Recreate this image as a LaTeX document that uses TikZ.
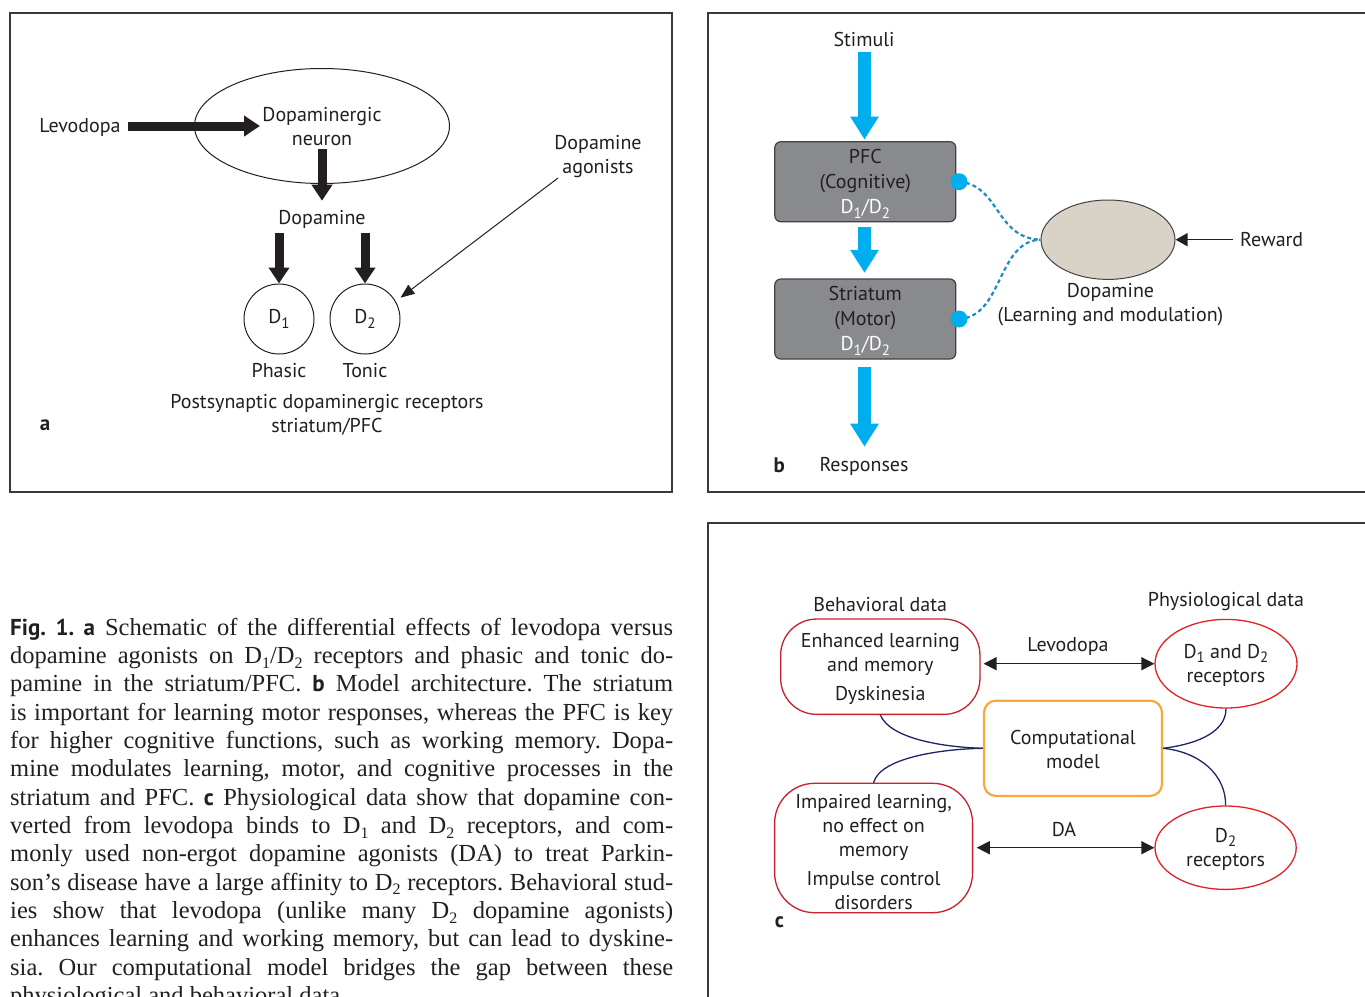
\documentclass[tikz,border=0pt]{standalone}
\usepackage{fontspec}
\setmainfont{Liberation Serif}
\newfontfamily\dfont{PT Sans}
\usetikzlibrary{arrows.meta,shapes.geometric,calc}
\definecolor{txt}{HTML}{231F20}
\definecolor{cyanarrow}{HTML}{00AEEF}
\definecolor{dashblue}{HTML}{1E8BC3}
\definecolor{boxgray}{HTML}{898A8D}
\definecolor{beige}{HTML}{D9D3C7}
\definecolor{crimson}{HTML}{C8202F}
\definecolor{brightred}{HTML}{E42127}
\definecolor{orangeb}{HTML}{F9A83A}
\definecolor{navy}{HTML}{1F2466}
\definecolor{framec}{HTML}{3A3A3A}
\newcommand\dsub[1]{\raisebox{-0.22em}{\fontsize{15}{15}\selectfont #1}}
\newcommand\csub[1]{\raisebox{-0.2em}{\fontsize{16}{16}\selectfont #1}}
\newcommand\capline[2]{\node[capl] at (10,#1) {\frenchspacing\makebox[663pt][s]{#2}};}
\begin{document}
\begin{tikzpicture}[x=1pt,y=-1pt,
  lbl/.style={font=\dfont\fontsize{20}{24}\selectfont, text=txt, inner sep=0pt, align=center},
  boxlbl/.style={font=\dfont\fontsize{20}{25}\selectfont, text=txt, inner sep=0pt, align=center},
  panellbl/.style={font=\dfont\bfseries\fontsize{21}{24}\selectfont, text=txt, inner sep=0pt},
  frame/.style={draw=framec, line width=1.2pt},
  fatarrow/.style={draw=txt, line width=9pt, -{Triangle[length=16pt,width=20pt]}},
  bluearrow/.style={draw=cyanarrow, line width=13.5pt, -{Triangle[length=23pt,width=27pt]}},
  thinarrow/.style={draw=txt, line width=1pt, -{Triangle[length=14pt,width=11pt]}},
  dblarrow/.style={draw=txt, line width=1.5pt, {Triangle[length=13pt,width=13pt]}-{Triangle[length=13pt,width=13pt]}},
  graybox/.style={draw=txt!85, line width=1.2pt, fill=boxgray, rounded corners=6pt, minimum width=181pt, minimum height=80pt, inner sep=0pt},
  dashcurve/.style={draw=dashblue, line width=2.2pt, dash pattern=on 4pt off 3pt},
  redbox/.style={draw=crimson, line width=1.3pt, inner sep=0pt},
  redell/.style={ellipse, draw=brightred, line width=1.3pt, inner sep=0pt},
  navycurve/.style={draw=navy, line width=1.3pt},
  capl/.style={anchor=base west, inner sep=0pt, text=txt, font=\fontsize{24.5}{28}\selectfont}
]
\useasboundingbox (0,0) rectangle (1365,996);
\clip (0,0) rectangle (1365,996);
\fill[white] (0,0) rectangle (1365,996);

% ---------------- panel a ----------------
\draw[frame] (10,13) rectangle (672,492);
\node[ellipse, draw=txt, line width=1pt, minimum width=255pt, minimum height=115pt, inner sep=0pt] (neuron) at (322,126) {};
\node[lbl] (dnt) at (322,127) {Dopaminergic\\neuron};
\node[lbl] (lev) at (80,127) {Levodopa};
\coordinate (levend) at (260,126);
\draw[fatarrow] ([xshift=7pt]lev.east |- levend) -- (levend);
\coordinate (nstart) at (322,149);
\node[lbl] (dopa) at (322,219) {Dopamine};
\draw[fatarrow] (nstart) -- ([yshift=9pt]dopa.north);
\node[circle, draw=txt, line width=1pt, minimum size=70pt, inner sep=0pt, font=\dfont\fontsize{20}{24}\selectfont, text=txt] (d1) at (279,319) {D\dsub{1}};
\node[circle, draw=txt, line width=1pt, minimum size=70pt, inner sep=0pt, font=\dfont\fontsize{20}{24}\selectfont, text=txt] (d2) at (365,319) {D\dsub{2}};
\draw[fatarrow] ([yshift=-5pt]dopa.south -| d1) -- (d1.north);
\draw[fatarrow] ([yshift=-5pt]dopa.south -| d2) -- (d2.north);
\node[lbl] (phasic) at (279,371) {Phasic};
\node[lbl] (tonic) at (365,371) {Tonic};
\node[lbl] (post) at (327,415) {Postsynaptic dopaminergic receptors\\striatum/PFC};
\node[panellbl] (pa) at (45,425) {a};
\node[lbl] (agon) at (598,157) {Dopamine\\agonists};
\coordinate (agstart) at (558,178);
\coordinate (agtip) at (400.5,297.7);
\draw[thinarrow] (agstart) -- (agtip);

% ---------------- panel b ----------------
\draw[frame] (1370,13) -- (708,13) -- (708,492) -- (1370,492);
\node[lbl] (stim) at (864,39) {Stimuli};
\node[graybox] (pfc) at (865.3,181.7) {};
\node[boxlbl] (pfct) at (865.3,183.7) {PFC\\(Cognitive)\\\textcolor{white}{D\dsub{1}/D\dsub{2}}};
\node[graybox] (str) at (865.3,319) {};
\node[boxlbl] (strt) at (865.3,321) {Striatum\\(Motor)\\\textcolor{white}{D\dsub{1}/D\dsub{2}}};
\coordinate (stimstart) at (864.5,51.7);
\draw[bluearrow] (stimstart) -- ([yshift=1.5pt]pfc.north -| stimstart);
\draw[bluearrow] ([yshift=-4.5pt]pfc.south -| stimstart) -- ([yshift=5.5pt]str.north -| stimstart);
\node[lbl] (resp) at (864,466) {Responses};
\draw[bluearrow] ([yshift=-7pt]str.south -| stimstart) -- ([yshift=10pt]resp.north -| stimstart);
\node[panellbl] (pb) at (779.3,465) {b};
\node[ellipse, draw=txt!85, line width=1pt, fill=beige, minimum width=134pt, minimum height=79.4pt, inner sep=0pt] (da) at (1108,239.7) {};
\node[lbl] (rew) at (1271.7,239.5) {Reward};
\draw[draw=txt, line width=1.3pt, -{Triangle[length=12pt,width=13pt]}] ([xshift=-7pt]rew.west |- da.east) -- (da.east);
\node[lbl] (dal) at (1110.5,305) {Dopamine\\(Learning and modulation)};
\coordinate (dot1) at (959,181.7);
\coordinate (dot2) at (959,319);
\draw[dashcurve] (dot1) .. controls (1000,185) and (995,238) .. (da.west);
\draw[dashcurve] (dot2) .. controls (1003,317) and (997,241) .. (da.west);
\fill[cyanarrow] (dot1) circle (8.5);
\fill[cyanarrow] (dot2) circle (8.5);

% ---------------- panel c ----------------
\draw[frame] (1370,523) -- (708,523) -- (708,1000);
\node[lbl] (behav) at (880.2,604.3) {Behavioral data};
\node[lbl] (phys) at (1225.9,601.7) {Physiological data};
\node[redbox, rounded corners=36pt, minimum width=199.3pt, minimum height=95.3pt] (box1) at (880.3,666.7) {};
\node[lbl] (box1t) at (880.3,668.5) {Enhanced learning\\and memory\\[5pt]Dyskinesia};
\node[redell, minimum width=142pt, minimum height=88.6pt] (rec1) at (1226,663.7) {};
\node[lbl] (rec1t) at (1226,665.5) {D\dsub{1} and D\dsub{2}\\receptors};
\node[draw=orangeb, line width=2.2pt, rounded corners=12pt, minimum width=178pt, minimum height=95.3pt, inner sep=0pt] (comp) at (1073,748.3) {};
\node[lbl] (compt) at (1073,749.7) {Computational\\model};
\node[redbox, rounded corners=40pt, minimum width=198pt, minimum height=129.4pt] (box2) at (873.6,848) {};
\node[lbl] (box2t) at (873.6,852.2) {Impaired learning,\\no effect on\\memory\\[5pt]Impulse control\\disorders};
\node[redell, minimum width=141.2pt, minimum height=83.4pt] (rec2) at (1225.6,847.7) {};
\node[lbl] (rec2t) at (1225.6,849.5) {D\dsub{2}\\receptors};
\node[lbl] (levc) at (1068,646) {Levodopa};
\node[lbl] (dac) at (1063.9,829.5) {DA};
\draw[dblarrow, shorten <=3pt] (box1.east |- rec1.west) -- (rec1.west);
\draw[dblarrow, shorten <=3.5pt] (box2.east |- rec2.west) -- (rec2.west);
\draw[navycurve] (box1.south) .. controls (890,738) and (940,747) .. (comp.west);
\draw[navycurve] (comp.west) .. controls (940,749) and (880,758) .. (box2.north);
\draw[navycurve] (rec1.south) .. controls (1226,735) and (1190,745) .. (comp.east);
\draw[navycurve] (comp.east) .. controls (1200,752) and (1226,775) .. (rec2.north);
\node[panellbl] (pc) at (779.3,922.3) {c};

% ---------------- caption ----------------
\capline{635}{{\dfont\bfseries\fontsize{23}{28}\selectfont Fig.\ 1.\ a} Schematic of the differential effects of levodopa versus}
\capline{663.3}{dopamine agonists on D\csub{1}/D\csub{2} receptors and phasic and tonic do-}
\capline{691.7}{pamine in the striatum/PFC. {\dfont\bfseries\fontsize{23}{28}\selectfont b} Model architecture. The striatum}
\capline{720}{is important for learning motor responses, whereas the PFC is key}
\capline{748.3}{for higher cognitive functions, such as working memory. Dopa-}
\capline{776.7}{mine modulates learning, motor, and cognitive processes in the}
\capline{805}{striatum and PFC. {\dfont\bfseries\fontsize{23}{28}\selectfont c} Physiological data show that dopamine con-}
\capline{833.3}{verted from levodopa binds to D\csub{1} and D\csub{2} receptors, and com-}
\capline{861.7}{monly used non-ergot dopamine agonists (DA) to treat Parkin-}
\capline{890}{son’s disease have a large affinity to D\csub{2} receptors. Behavioral stud-}
\capline{918.3}{ies show that levodopa (unlike many D\csub{2} dopamine agonists)}
\capline{946.7}{enhances learning and working memory, but can lead to dyskine-}
\capline{975}{sia. Our computational model bridges the gap between these}
\node[capl] (lastline) at (10,1003.3) {physiological and behavioral data.};
\end{tikzpicture}
\end{document}
